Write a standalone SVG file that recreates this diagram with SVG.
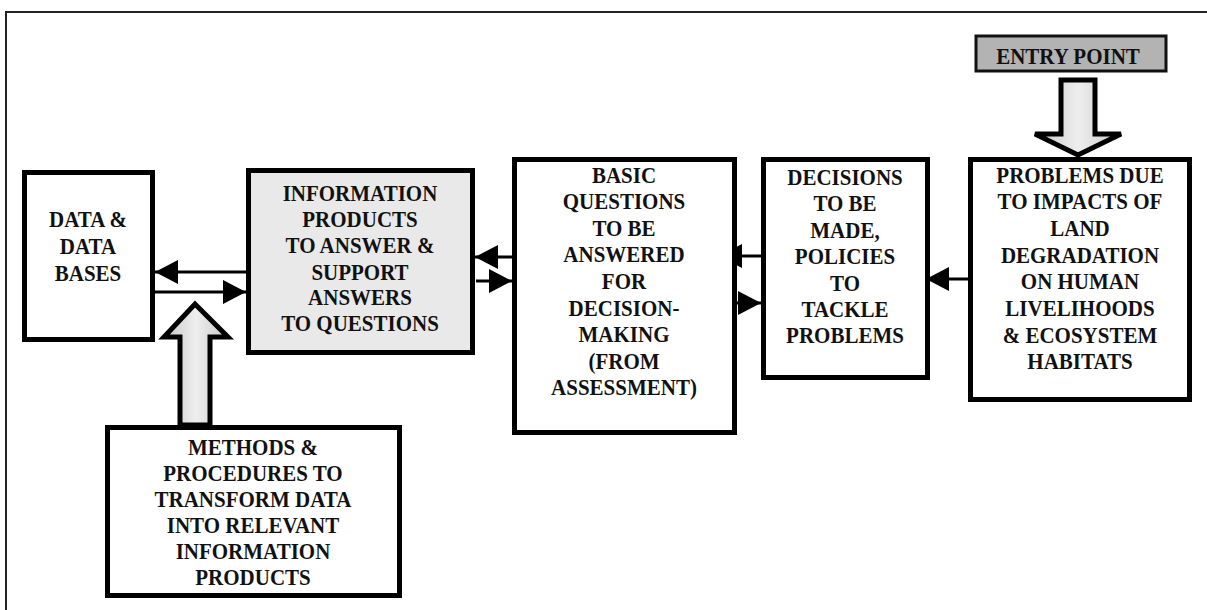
<svg xmlns="http://www.w3.org/2000/svg" width="1207" height="610" viewBox="0 0 1207 610">
  <style>
    .box { fill: #ffffff; stroke: #000; stroke-width: 5; }
    .shaded { fill: #e9e9e9; }
    .entry { fill: #b3b3b3; stroke: #111; stroke-width: 3; }
    .lbl { font-family: "Liberation Serif", "Times New Roman", serif; font-weight: bold; font-size: 21px; fill: #111; text-anchor: middle; }
    .link { stroke: #000; stroke-width: 3; fill: none; }
    .block { fill: url(#blockFill); stroke: #000; stroke-width: 5; stroke-linejoin: miter; }
  </style>
  <defs>
    <marker id="head" markerUnits="userSpaceOnUse" markerWidth="23" markerHeight="24" refX="23" refY="12" orient="auto">
      <path d="M0,0 L23,12 L0,24 z" fill="#000"/>
    </marker>
    <linearGradient id="blockFill" x1="0" y1="0" x2="1" y2="0">
      <stop offset="0" stop-color="#c8c8c8"/>
      <stop offset="0.5" stop-color="#eeeeee"/>
      <stop offset="1" stop-color="#c8c8c8"/>
    </linearGradient>
  </defs>

  <rect width="1207" height="610" fill="#fff"/>
  <!-- outer frame (top and left edges) -->
  <path d="M6,610 V12 H1207" fill="none" stroke="#222" stroke-width="2"/>

  <!-- connectors -->
  <g id="connectors">
    <line class="link" x1="246" y1="272" x2="155" y2="272" marker-end="url(#head)"/>
    <line class="link" x1="155" y1="292" x2="246" y2="292" marker-end="url(#head)"/>
    <line class="link" x1="512" y1="257" x2="475" y2="257" marker-end="url(#head)"/>
    <line class="link" x1="476" y1="281" x2="512" y2="281" marker-end="url(#head)"/>
    <line class="link" x1="761" y1="256" x2="719" y2="256" marker-end="url(#head)"/>
    <line class="link" x1="718" y1="303" x2="761" y2="303" marker-end="url(#head)"/>
    <line class="link" x1="968" y1="279" x2="926" y2="279" marker-end="url(#head)"/>
    <!-- hollow block arrows -->
    <polygon class="block" points="1061,80 1095,80 1095,134 1121,134 1078,155 1035,134 1061,134"/>
    <polygon class="block" points="180,425 180,337 164,337 195,304 228,337 210,337 210,425"/>
  </g>

  <!-- labels are stretched slightly in height (scaled about each block's centre) -->
  <g id="entry-point">
    <rect class="entry" x="976" y="36" width="190" height="35"/>
    <text class="lbl" x="1068" y="63" transform="matrix(1,0,0,1.08,0,-4.48)">ENTRY POINT</text>
  </g>

  <g id="data-bases">
    <rect class="box" x="24.5" y="172.5" width="128" height="167"/>
    <text class="lbl" transform="matrix(1,0,0,1.08,0,-19.68)"><tspan x="88" y="228">DATA &amp;</tspan><tspan x="88" y="253">DATA</tspan><tspan x="88" y="278">BASES</tspan></text>
  </g>

  <g id="information-products">
    <rect class="box shaded" x="248.5" y="170.5" width="224" height="182"/>
    <text class="lbl" transform="matrix(1,0,0,1.08,0,-20.68)"><tspan x="360" y="205">INFORMATION</tspan><tspan x="360" y="229">PRODUCTS</tspan><tspan x="360" y="253">TO ANSWER &amp;</tspan><tspan x="360" y="278">SUPPORT</tspan><tspan x="360" y="302">ANSWERS</tspan><tspan x="360" y="326">TO QUESTIONS</tspan></text>
  </g>

  <g id="basic-questions">
    <rect class="box" x="514.5" y="159.5" width="220" height="273"/>
    <text class="lbl" transform="matrix(1,0,0,1.08,0,-22.51)"><tspan x="624" y="190">BASIC</tspan><tspan x="624" y="214.6">QUESTIONS</tspan><tspan x="624" y="239.2">TO BE</tspan><tspan x="624" y="263.8">ANSWERED</tspan><tspan x="624" y="288.4">FOR</tspan><tspan x="624" y="313">DECISION-</tspan><tspan x="624" y="337.6">MAKING</tspan><tspan x="624" y="362.2">(FROM</tspan><tspan x="624" y="386.8">ASSESSMENT)</tspan></text>
  </g>

  <g id="decisions">
    <rect class="box" x="763.5" y="159.5" width="164" height="218"/>
    <text class="lbl" transform="matrix(1,0,0,1.08,0,-20.52)"><tspan x="845" y="190">DECISIONS</tspan><tspan x="845" y="214.5">TO BE</tspan><tspan x="845" y="239">MADE,</tspan><tspan x="845" y="263.5">POLICIES</tspan><tspan x="845" y="288">TO</tspan><tspan x="845" y="312.5">TACKLE</tspan><tspan x="845" y="337">PROBLEMS</tspan></text>
  </g>

  <g id="problems">
    <rect class="box" x="970.5" y="159.5" width="219" height="240"/>
    <text class="lbl" transform="matrix(1,0,0,1.08,0,-21.48)"><tspan x="1080" y="189">PROBLEMS DUE</tspan><tspan x="1080" y="213.7">TO IMPACTS OF</tspan><tspan x="1080" y="238.4">LAND</tspan><tspan x="1080" y="263.1">DEGRADATION</tspan><tspan x="1080" y="287.8">ON HUMAN</tspan><tspan x="1080" y="312.5">LIVELIHOODS</tspan><tspan x="1080" y="337.2">&amp; ECOSYSTEM</tspan><tspan x="1080" y="361.9">HABITATS</tspan></text>
  </g>

  <g id="methods">
    <rect class="box" x="107.5" y="427.5" width="292" height="168"/>
    <text class="lbl" transform="matrix(1,0,0,1.08,0,-41)"><tspan x="253" y="459">METHODS &amp;</tspan><tspan x="253" y="483.2">PROCEDURES TO</tspan><tspan x="253" y="507.4">TRANSFORM DATA</tspan><tspan x="253" y="531.6">INTO RELEVANT</tspan><tspan x="253" y="555.8">INFORMATION</tspan><tspan x="253" y="580">PRODUCTS</tspan></text>
  </g>
</svg>
